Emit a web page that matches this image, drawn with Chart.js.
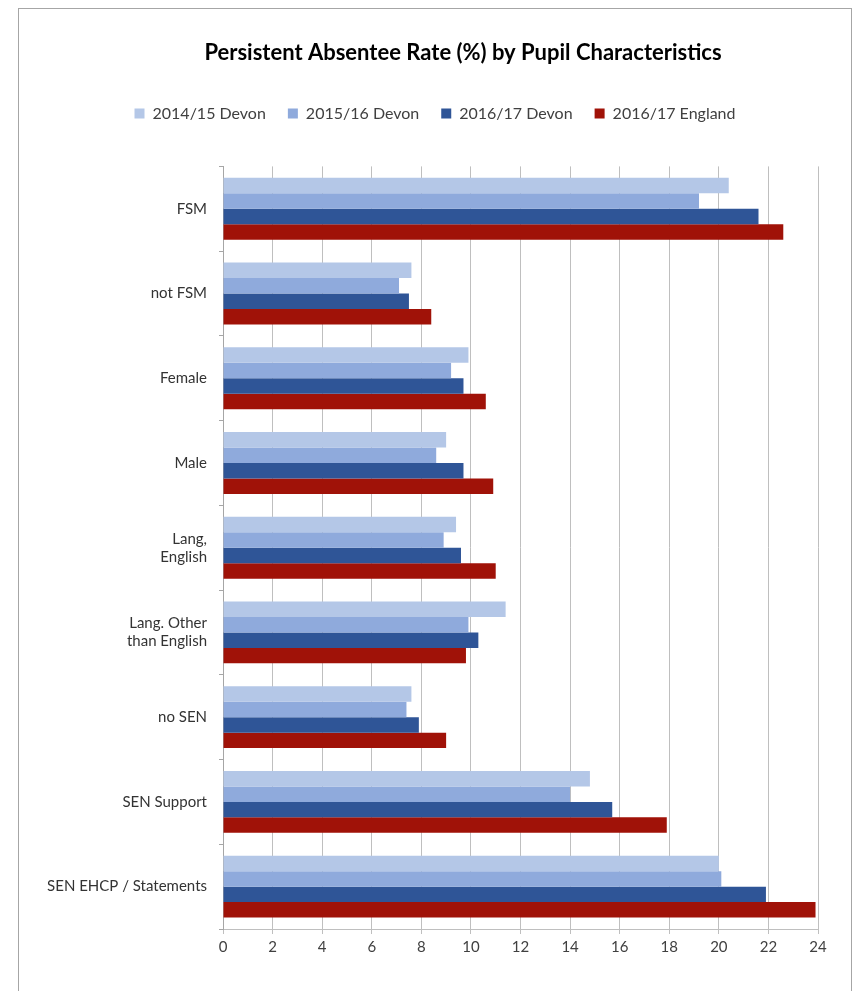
<!DOCTYPE html>
<html>
<head>
<meta charset="utf-8">
<script src="https://cdn.jsdelivr.net/npm/chart.js@4/dist/chart.umd.min.js"></script>
<style>
  body { margin: 0; background: white; }
  #wrap { position: relative; width: 866px; height: 991px; overflow: hidden; }
  #frame { position: absolute; left: 18px; top: 8px; width: 832px; height: 1100px; border: 1px solid #a6a6a6; pointer-events: none; }
</style>
</head>
<body>
<div id="wrap">
  <canvas id="grafico_barras" width="866" height="991"></canvas>
  <div id="frame"></div>
</div>
<script>
let ctx = document.getElementById('grafico_barras')

Chart.defaults.font.family = 'Lato, sans-serif'
Chart.defaults.color = '#404040'

// categorias e valores
const labels = ['FSM', 'not FSM', 'Female', 'Male', ['Lang,', 'English'], ['Lang. Other', 'than English'], 'no SEN', 'SEN Support', 'SEN EHCP / Statements']

const devon1415 = [20.4, 7.6, 9.9, 9.0, 9.4, 11.4, 7.6, 14.8, 20.0]
const devon1516 = [19.2, 7.1, 9.2, 8.6, 8.9, 9.9, 7.4, 14.0, 20.1]
const devon1617 = [21.6, 7.5, 9.7, 9.7, 9.6, 10.3, 7.9, 15.7, 21.9]
const england1617 = [22.6, 8.4, 10.6, 10.9, 11.0, 9.8, 9.0, 17.9, 23.9]

const data = {
    labels,
    datasets: [
        { label: '2014/15 Devon', data: devon1415, backgroundColor: 'rgb(180,199,231)' },
        { label: '2015/16 Devon', data: devon1516, backgroundColor: 'rgb(143,170,220)' },
        { label: '2016/17 Devon', data: devon1617, backgroundColor: 'rgb(47,85,151)' },
        { label: '2016/17 England', data: england1617, backgroundColor: 'rgb(160,18,8)' }
    ]
}

// espaço extra abaixo da legenda e deslocamento horizontal do título/legenda
const ajustes = {
    id: 'ajustes',
    beforeInit(chart) {
        const fit = chart.legend.fit
        chart.legend.fit = function () {
            fit.bind(chart.legend)()
            this.height += 35
        }
    },
    afterLayout(chart) {
        chart.titleBlock.left += 54
        chart.titleBlock.right += 54
        chart.legend.left += 26
        chart.legend.right += 26
    }
}

const config = {
    type: 'bar',
    data,
    plugins: [ajustes],
    options: {
        indexAxis: 'y',
        responsive: false,
        animation: false,
        categoryPercentage: 0.73,
        barPercentage: 1.0,
        layout: { padding: { top: 30, right: 48, bottom: 0, left: 0 } },
        plugins: {
            title: {
                display: true,
                text: 'Persistent Absentee Rate (%) by Pupil Characteristics',
                color: '#000',
                font: { size: 22, weight: 'bold' },
                padding: { top: 10, bottom: 17 }
            },
            legend: {
                labels: {
                    boxWidth: 10,
                    boxHeight: 10,
                    padding: 22,
                    font: { size: 16 }
                }
            },
            tooltip: { enabled: false }
        },
        scales: {
            x: {
                min: 0,
                max: 24,
                ticks: { stepSize: 2, font: { size: 15 }, padding: 4 },
                grid: { color: '#bfbfbf', tickLength: 5 },
                border: { color: '#bfbfbf' },
                afterFit: (s) => { s.height = 62 }
            },
            y: {
                ticks: { font: { size: 15 }, padding: 12, color: '#333' },
                grid: { drawOnChartArea: false, tickLength: 4, color: '#a6a6a6' },
                border: { color: '#a6a6a6' },
                afterFit: (s) => { s.width = 223 }
            }
        }
    }
}

const graph = new Chart(ctx, config)
</script>
</body>
</html>
